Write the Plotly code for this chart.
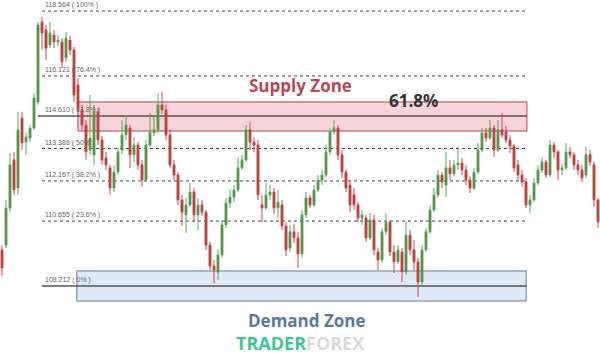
import plotly.graph_objects as go

# ---- data (price values) ----
opens = [109.57,109.75,111.15,112.96,111.90,114.54,113.63,113.78,114.16,115.14,
         118.15,117.85,117.29,117.66,117.40,117.40,116.80,117.47,117.10,115.78,
         114.84,114.27,113.33,113.15,114.77,113.71,113.03,112.66,111.90,112.50,
         113.33,113.90,114.16,113.15,113.52,112.77,112.20,113.52,113.97,114.09,
         115.03,114.84,113.90,112.77,112.39,111.45,110.89,111.26,111.75,110.89,
         111.26,110.99,109.75,108.96,108.74,109.38,110.51,111.34,111.56,111.83,
         112.66,112.96,114.09,113.63,113.52,111.26,111.15,111.64,111.75,111.15,
         111.26,110.47,109.64,110.25,110.02,109.42,110.89,111.53,111.26,111.83,
         112.20,112.39,113.26,114.01,114.16,113.15,112.50,112.01,111.64,111.26,
         110.77,110.77,110.02,110.70,109.49,109.19,110.25,110.62,109.49,109.12,
         109.49,108.74,110.13,109.57,109.12,108.36,109.57,110.25,111.07,111.64,
         112.39,112.01,112.66,112.43,112.77,112.84,112.58,112.20,111.90,112.50,
         113.33,113.97,113.78,114.16,113.33,114.09,114.01,113.71,113.48,112.77,
         112.39,112.13,111.26,111.45,112.09,112.58,112.88,112.39,113.52,113.26,
         112.58,112.66,113.26,113.15,112.77,112.58,112.39,113.15,112.77,111.45]
highs = [109.75,111.45,113.22,113.26,114.77,114.77,113.98,114.27,115.48,118.15,
         118.34,118.04,118.15,117.85,117.66,117.55,117.78,117.62,117.21,116.04,
         115.03,114.46,115.40,115.03,114.91,113.86,113.26,112.77,112.77,113.41,
         114.46,114.65,114.27,113.82,113.63,112.96,113.71,114.73,114.58,115.48,
         115.52,115.03,114.09,112.96,112.50,111.64,111.53,112.09,111.90,111.53,
         111.45,111.07,109.87,109.19,109.57,110.70,111.53,111.83,112.01,113.07,
         113.15,114.27,114.39,113.82,113.71,111.64,112.09,112.01,111.90,111.83,
         111.45,110.62,110.51,110.55,110.25,111.07,111.75,111.64,112.01,112.39,
         112.58,113.52,114.16,114.46,114.27,113.33,112.58,112.20,111.90,111.37,
         111.07,110.89,110.96,110.89,109.64,110.40,110.96,110.70,109.75,109.75,
         109.64,110.62,110.32,109.94,109.27,109.75,110.40,111.26,111.90,112.58,
         112.50,113.26,112.96,112.96,113.45,113.03,112.77,112.35,112.66,113.60,
         114.16,114.16,114.46,114.27,114.46,114.73,114.24,113.90,113.56,112.96,
         112.58,112.28,111.64,112.28,112.77,113.07,112.96,113.71,113.63,113.33,
         112.81,113.60,113.45,113.26,112.96,112.77,113.45,113.33,112.88,111.53]
lows = [108.59,109.64,110.99,111.64,111.64,113.33,113.15,113.63,114.09,115.03,
        117.10,116.72,117.17,117.17,117.25,116.42,116.65,116.91,115.14,114.77,
        114.09,112.96,113.15,112.77,113.52,112.77,112.58,111.64,111.75,112.39,
        113.18,113.71,112.66,112.88,112.58,111.94,112.13,113.41,113.86,113.97,
        114.69,113.71,112.66,112.20,111.26,110.47,110.21,111.19,110.62,110.32,
        110.85,109.57,108.81,108.32,108.44,109.26,110.40,111.15,111.37,111.75,
        112.58,112.88,113.33,113.26,111.45,110.62,111.07,111.45,110.92,110.77,
        110.32,109.34,109.49,109.83,108.89,109.27,110.77,111.15,111.19,111.75,
        112.01,112.32,113.15,113.90,112.96,112.28,111.75,110.99,111.07,110.62,
        110.51,109.87,109.94,109.38,108.81,109.08,110.13,109.34,108.70,109.04,
        108.36,108.63,109.38,108.81,107.80,108.25,109.49,110.17,110.99,111.53,
        111.90,111.56,112.20,112.35,112.58,112.39,112.01,111.71,111.83,112.43,
        113.26,113.63,113.71,113.07,113.26,113.78,113.60,113.22,112.50,112.20,
        111.94,111.15,110.96,111.37,112.01,112.47,112.28,112.32,113.03,112.20,
        112.39,112.58,113.03,112.58,112.39,112.13,112.28,112.73,111.19,110.40]
closes = [108.89,111.15,112.77,111.83,114.09,113.60,113.82,114.16,115.29,118.04,
          117.74,117.17,117.74,117.40,117.47,116.65,117.55,117.10,115.40,114.91,
          114.27,113.26,113.78,114.77,113.71,112.96,112.77,111.90,112.50,113.26,
          113.90,114.27,113.15,113.52,112.77,112.20,113.52,114.01,114.09,115.03,
          114.84,113.90,112.77,112.39,111.45,110.99,111.26,111.75,110.89,111.26,
          110.99,109.75,108.96,108.81,109.38,110.51,111.34,111.56,111.83,112.66,
          112.96,114.09,113.63,113.52,111.64,111.15,111.64,111.75,111.15,111.37,
          110.47,109.57,110.25,110.02,109.42,110.89,111.53,111.26,111.83,112.20,
          112.39,113.26,114.01,114.16,113.15,112.50,111.90,111.26,111.26,110.77,
          110.89,110.02,110.70,109.57,109.19,110.25,110.62,109.49,109.12,109.57,
          108.74,110.13,109.57,109.12,108.36,109.57,110.25,111.07,111.64,112.39,
          112.13,112.66,112.43,112.77,112.84,112.58,112.20,111.90,112.50,113.33,
          113.97,113.78,114.16,113.33,114.09,113.90,113.71,113.48,112.66,112.39,
          112.13,111.26,111.45,112.09,112.58,112.88,112.39,113.52,113.26,112.58,
          112.66,113.26,113.15,112.77,112.58,112.28,113.15,112.88,111.45,110.62]

fib_levels = [118.564, 116.121, 114.610, 113.388, 112.167, 110.655, 108.212]
fib_pcts = ["100%", "76.4%", "61.8%", "50%", "38.2%", "23.6%", "0%"]
supply_zone = [114.05, 115.14]
demand_zone = [107.65, 108.78]

idx = list(range(len(closes)))

fig = go.Figure()
fig.add_trace(go.Candlestick(
    x=idx, open=opens, high=highs, low=lows, close=closes,
    increasing=dict(line=dict(color="#4fae5a", width=1), fillcolor="#7d6a30"),
    decreasing=dict(line=dict(color="#d2444c", width=1), fillcolor="#8c4e2c"),
    whiskerwidth=0, hoverinfo="skip",
))

shapes = []
shapes.append(dict(type="rect", xref="paper", yref="y", x0=0.13, x1=0.878,
                   y0=supply_zone[0], y1=supply_zone[1],
                   fillcolor="rgba(238,160,166,0.45)",
                   line=dict(color="#c97a80", width=1.5), layer="below"))
shapes.append(dict(type="rect", xref="paper", yref="y", x0=0.128, x1=0.877,
                   y0=demand_zone[0], y1=demand_zone[1],
                   fillcolor="#dde9f7",
                   line=dict(color="#93a5b7", width=1.5), layer="below"))
annotations = []
for lvl, pct in zip(fib_levels, fib_pcts):
    solid = pct in ("61.8%", "0%")
    shapes.append(dict(type="line", xref="paper", yref="y",
                       x0=0.063 if pct == "61.8%" else 0.07, x1=0.878,
                       y0=lvl, y1=lvl, layer="below",
                       line=dict(color="#555555" if solid else "#444444",
                                 width=1.5 if solid else 1,
                                 dash="solid" if solid else "dot")))
    annotations.append(dict(xref="paper", yref="y", x=0.072, y=lvl,
                            xanchor="left", yanchor="bottom", yshift=0,
                            text=f"{lvl:.3f} ( {pct} )", showarrow=False,
                            font=dict(family="Arial", size=7, color="#666666")))

annotations += [
    dict(xref="paper", yref="paper", x=300 / 600, y=1 - 85 / 358, text="<b>Supply Zone</b>",
         xanchor="center", yanchor="middle",
         showarrow=False, font=dict(family="Open Sans", size=17, color="#b64a52")),
    dict(xref="paper", yref="paper", x=413 / 600, y=1 - 100 / 358, text="<b>61.8%</b>",
         xanchor="center", yanchor="middle",
         showarrow=False, font=dict(family="Open Sans", size=17, color="#333333")),
    dict(xref="paper", yref="paper", x=307 / 600, y=1 - 320 / 358, text="<b>Demand Zone</b>",
         xanchor="center", yanchor="middle",
         showarrow=False, font=dict(family="Open Sans", size=17, color="#5a7a9c")),
    dict(xref="paper", yref="paper", x=300 / 600, y=1 - 343 / 358,
         xanchor="center", yanchor="middle",
         text="<b><span style='color:#3fc49a'>TRADER</span><span style='color:#d9d9d9'>FOREX</span></b>",
         showarrow=False, font=dict(family="Open Sans", size=18)),
]

fig.update_layout(
    width=600, height=358, margin=dict(l=0, r=0, t=0, b=0),
    paper_bgcolor="white", plot_bgcolor="white", showlegend=False,
    shapes=shapes, annotations=annotations,
    xaxis=dict(visible=False, range=[-0.5, len(closes) - 0.5], rangeslider=dict(visible=False)),
    yaxis=dict(visible=False, range=[105.50, 118.98]),
)
fig.write_html("out.html")
